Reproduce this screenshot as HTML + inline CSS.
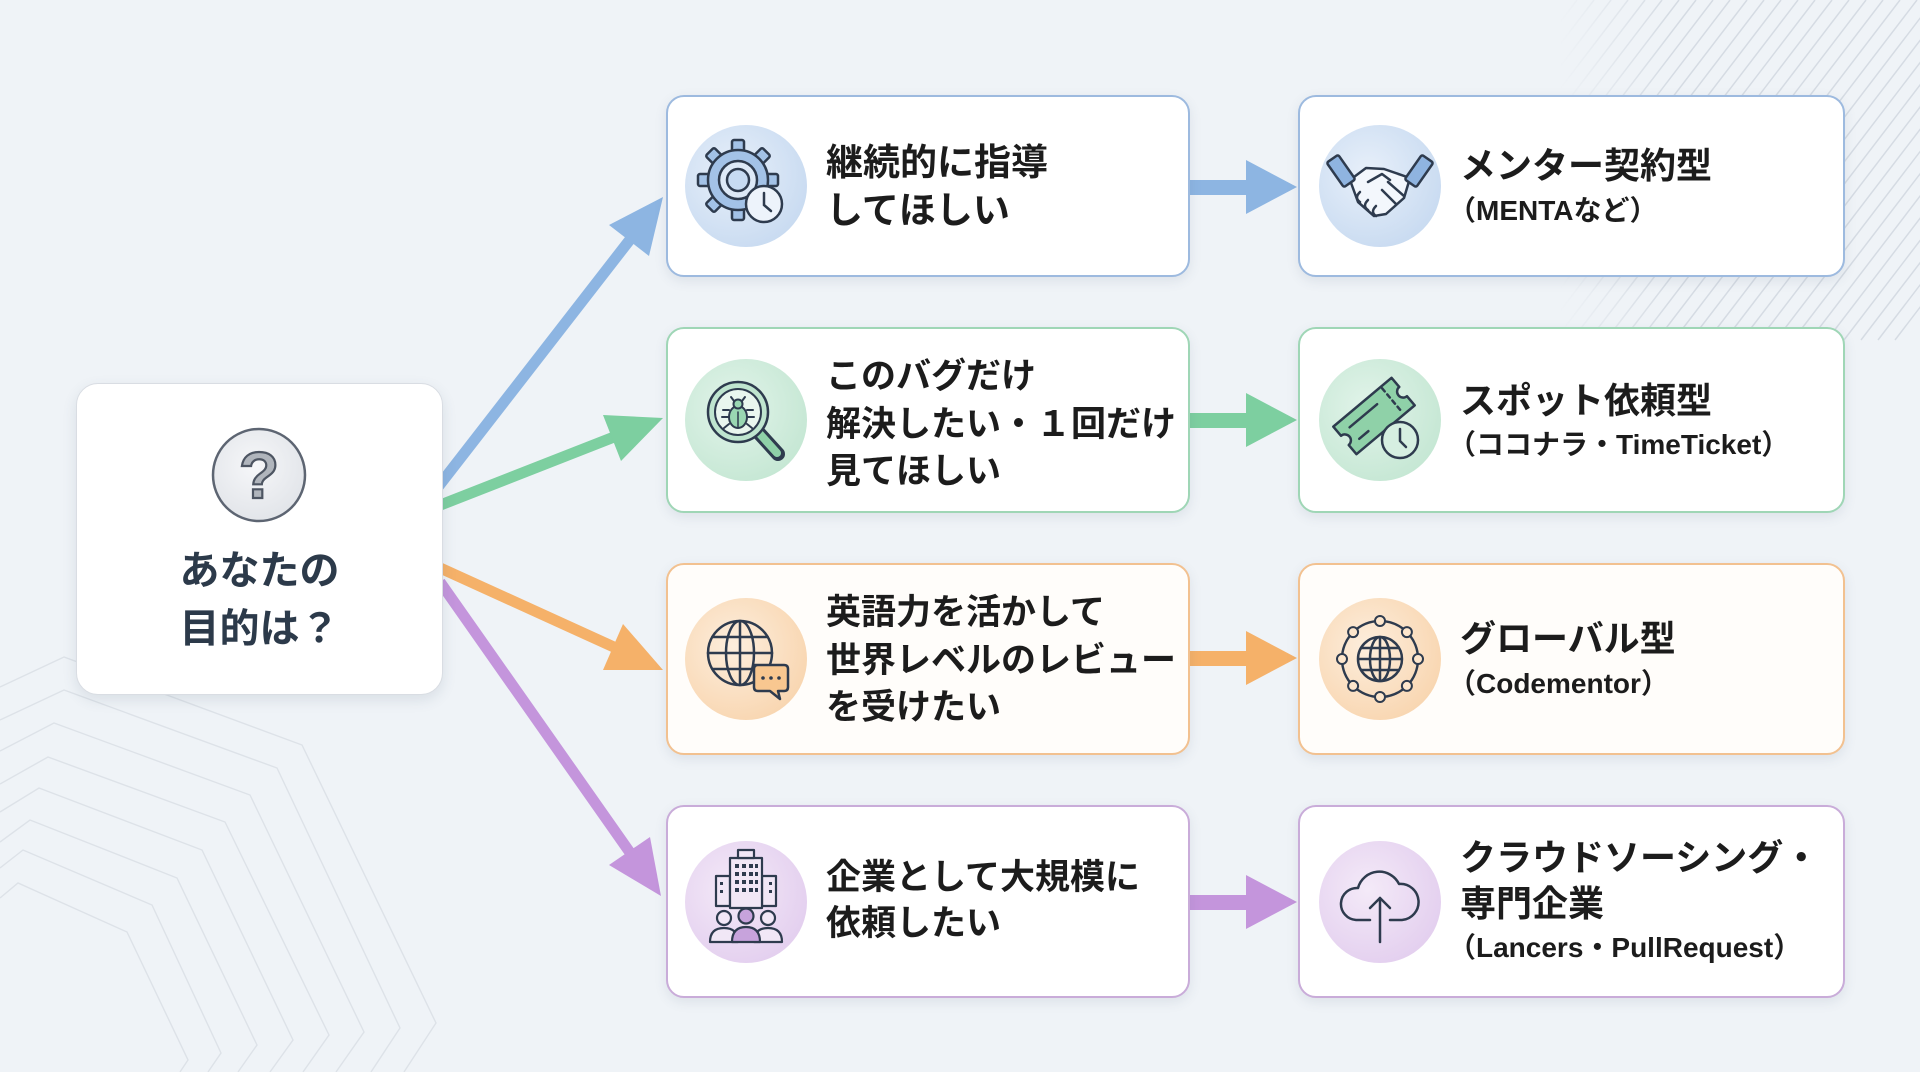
<!DOCTYPE html>
<html lang="ja">
<head>
<meta charset="utf-8">
<style>
  html,body{margin:0;padding:0;}
  body{width:1920px;height:1072px;overflow:hidden;background:#eff3f7;position:relative;
    font-family:"Liberation Sans","Noto Sans CJK JP",sans-serif;font-weight:700;}
  .layer{position:absolute;left:0;top:0;width:1920px;height:1072px;}
  .card{position:absolute;box-sizing:border-box;background:#fff;border:2.5px solid;border-radius:18px;
    box-shadow:0 4px 12px rgba(60,80,110,0.10);}
  .b{border-color:#9dbadf;}
  .g{border-color:#9fd6b6;}
  .o{border-color:#f2c190;background:#fffdfa;}
  .p{border-color:#c9acd9;}
  .t{position:absolute;white-space:nowrap;color:#1c1c1c;font-size:35px;}
  .rt{position:absolute;white-space:nowrap;color:#1c1c1c;font-size:36px;line-height:44px;}
  .rs{position:absolute;white-space:nowrap;color:#1c1c1c;font-size:28px;line-height:40px;}
</style>
</head>
<body>

<!-- background + arrows -->
<svg class="layer" width="1920" height="1072" viewBox="0 0 1920 1072">
  <defs>
    <linearGradient id="fadeTR" x1="0" y1="0" x2="1" y2="0">
      <stop offset="0" stop-color="#fff" stop-opacity="0"/>
      <stop offset="0.3" stop-color="#fff" stop-opacity="1"/>
      <stop offset="1" stop-color="#fff" stop-opacity="1"/>
    </linearGradient>
    <mask id="mTR">
      <rect x="1560" y="0" width="360" height="345" fill="url(#fadeTR)"/>
    </mask>
  </defs>
  <rect width="1920" height="1072" fill="#eff3f7"/>

  <!-- top-right diagonal lines -->
  <g mask="url(#mTR)" stroke="#cdd4dd" stroke-width="1.5" opacity="0.75">
    <line x1="1300" y1="340" x2="1560" y2="0"/>
    <line x1="1317" y1="340" x2="1577" y2="0"/>
    <line x1="1334" y1="340" x2="1594" y2="0"/>
    <line x1="1351" y1="340" x2="1611" y2="0"/>
    <line x1="1368" y1="340" x2="1628" y2="0"/>
    <line x1="1385" y1="340" x2="1645" y2="0"/>
    <line x1="1402" y1="340" x2="1662" y2="0"/>
    <line x1="1419" y1="340" x2="1679" y2="0"/>
    <line x1="1436" y1="340" x2="1696" y2="0"/>
    <line x1="1453" y1="340" x2="1713" y2="0"/>
    <line x1="1470" y1="340" x2="1730" y2="0"/>
    <line x1="1487" y1="340" x2="1747" y2="0"/>
    <line x1="1504" y1="340" x2="1764" y2="0"/>
    <line x1="1521" y1="340" x2="1781" y2="0"/>
    <line x1="1538" y1="340" x2="1798" y2="0"/>
    <line x1="1555" y1="340" x2="1815" y2="0"/>
    <line x1="1572" y1="340" x2="1832" y2="0"/>
    <line x1="1589" y1="340" x2="1849" y2="0"/>
    <line x1="1606" y1="340" x2="1866" y2="0"/>
    <line x1="1623" y1="340" x2="1883" y2="0"/>
    <line x1="1640" y1="340" x2="1900" y2="0"/>
    <line x1="1657" y1="340" x2="1917" y2="0"/>
    <line x1="1674" y1="340" x2="1934" y2="0"/>
    <line x1="1691" y1="340" x2="1951" y2="0"/>
    <line x1="1708" y1="340" x2="1968" y2="0"/>
    <line x1="1725" y1="340" x2="1985" y2="0"/>
    <line x1="1742" y1="340" x2="2002" y2="0"/>
    <line x1="1759" y1="340" x2="2019" y2="0"/>
    <line x1="1776" y1="340" x2="2036" y2="0"/>
    <line x1="1793" y1="340" x2="2053" y2="0"/>
    <line x1="1810" y1="340" x2="2070" y2="0"/>
    <line x1="1827" y1="340" x2="2087" y2="0"/>
    <line x1="1844" y1="340" x2="2104" y2="0"/>
    <line x1="1861" y1="340" x2="2121" y2="0"/>
    <line x1="1878" y1="340" x2="2138" y2="0"/>
    <line x1="1895" y1="340" x2="2155" y2="0"/>
  </g>

  <!-- bottom-left hexagon lines -->
  <g fill="none" stroke="#dde2e8" stroke-width="1.4">
    <polyline points="0,687 64,657 302,745 436,1023 404,1072"/>
    <polyline points="0,720 64,690 277,768 400,1028 371,1072"/>
    <polyline points="0,751 54,723 250,795 364,1032 336,1072"/>
    <polyline points="0,784 48,757 225,822 329,1035 303,1072"/>
    <polyline points="0,812 39,788 202,850 293,1040 270,1072"/>
    <polyline points="0,842 30,820 177,878 257,1045 238,1072"/>
    <polyline points="0,868 23,850 152,905 221,1053 208,1072"/>
    <polyline points="0,898 18,883 127,932 188,1060 180,1072"/>
  </g>

  <!-- diagonal arrows -->
  <g stroke-width="11" fill="none">
    <line x1="438" y1="487" x2="632" y2="237" stroke="#8db5e2"/>
    <line x1="438" y1="506" x2="614" y2="437" stroke="#7dcfa0"/>
    <line x1="438" y1="567" x2="616" y2="648" stroke="#f5b169"/>
    <line x1="440" y1="582" x2="631" y2="854" stroke="#c495dc"/>
  </g>
  <polygon points="663,197 649,256 609,225" fill="#8db5e2"/>
  <polygon points="663,418 621,461 603,415" fill="#7dcfa0"/>
  <polygon points="663,670 603,670 623,624" fill="#f5b169"/>
  <polygon points="661,896 609,865 650,837" fill="#c495dc"/>

  <!-- horizontal arrows -->
  <rect x="1190" y="180" width="60" height="15" fill="#8db5e2"/>
  <polygon points="1246,160 1297,187 1246,214" fill="#8db5e2"/>
  <rect x="1190" y="413" width="60" height="15" fill="#7dcfa0"/>
  <polygon points="1246,393 1297,420 1246,447" fill="#7dcfa0"/>
  <rect x="1190" y="651" width="60" height="15" fill="#f5b169"/>
  <polygon points="1246,631 1297,658 1246,685" fill="#f5b169"/>
  <rect x="1190" y="895" width="60" height="15" fill="#c495dc"/>
  <polygon points="1246,875 1297,902 1246,929" fill="#c495dc"/>
</svg>

<!-- left box -->
<div class="card" style="left:76px;top:383px;width:367px;height:312px;border:1.5px solid #d9dde3;border-radius:22px;box-shadow:0 5px 14px rgba(60,80,110,0.12);"></div>
<div style="position:absolute;left:76px;width:367px;top:542px;text-align:center;font-size:40px;line-height:58px;color:#2c3a4a;white-space:nowrap;">あなたの<br>目的は？</div>

<!-- middle cards -->
<div class="card b" style="left:666px;top:95px;width:524px;height:182px;"></div>
<div class="card g" style="left:666px;top:327px;width:524px;height:186px;"></div>
<div class="card o" style="left:666px;top:563px;width:524px;height:192px;"></div>
<div class="card p" style="left:666px;top:805px;width:524px;height:193px;"></div>

<!-- right cards -->
<div class="card b" style="left:1298px;top:95px;width:547px;height:182px;"></div>
<div class="card g" style="left:1298px;top:327px;width:547px;height:186px;"></div>
<div class="card o" style="left:1298px;top:563px;width:547px;height:192px;"></div>
<div class="card p" style="left:1298px;top:805px;width:547px;height:193px;"></div>

<!-- middle texts -->
<div class="t" style="left:826px;top:139px;line-height:48px;font-size:37px;">継続的に指導<br>してほしい</div>
<div class="t" style="left:826px;top:353px;line-height:47.5px;">このバグだけ<br>解決したい・１回だけ<br>見てほしい</div>
<div class="t" style="left:826px;top:589px;line-height:47.5px;">英語力を活かして<br>世界レベルのレビュー<br>を受けたい</div>
<div class="t" style="left:826px;top:855px;line-height:46px;">企業として大規模に<br>依頼したい</div>

<!-- right texts -->
<div class="rt" style="left:1460px;top:144px;">メンター契約型</div>
<div class="rs" style="left:1448px;top:191px;">（MENTAなど）</div>
<div class="rt" style="left:1460px;top:379px;">スポット依頼型</div>
<div class="rs" style="left:1448px;top:425px;">（ココナラ・TimeTicket）</div>
<div class="rt" style="left:1460px;top:617px;">グローバル型</div>
<div class="rs" style="left:1448px;top:664px;">（Codementor）</div>
<div class="rt" style="left:1460px;top:836px;">クラウドソーシング・</div>
<div class="rt" style="left:1460px;top:882px;">専門企業</div>
<div class="rs" style="left:1448px;top:928px;">（Lancers・PullRequest）</div>

<!-- icons overlay -->
<svg class="layer" width="1920" height="1072" viewBox="0 0 1920 1072" style="pointer-events:none;">
  <defs>
    <radialGradient id="gB" cx="0.4" cy="0.4" r="0.7"><stop offset="0" stop-color="#e8f0fa"/><stop offset="1" stop-color="#c6d9f0"/></radialGradient>
    <radialGradient id="gG" cx="0.4" cy="0.4" r="0.7"><stop offset="0" stop-color="#e2f4ea"/><stop offset="1" stop-color="#c3e6d2"/></radialGradient>
    <radialGradient id="gO" cx="0.4" cy="0.4" r="0.7"><stop offset="0" stop-color="#fdeedd"/><stop offset="1" stop-color="#f8d4ad"/></radialGradient>
    <radialGradient id="gP" cx="0.4" cy="0.4" r="0.7"><stop offset="0" stop-color="#f4eaf8"/><stop offset="1" stop-color="#e2cdee"/></radialGradient>
    <radialGradient id="gQ" cx="0.45" cy="0.4" r="0.7"><stop offset="0" stop-color="#f6f7f9"/><stop offset="1" stop-color="#dfe2e7"/></radialGradient>
  </defs>

  <!-- question -->
  <circle cx="259" cy="475" r="46" fill="url(#gQ)" stroke="#5d6572" stroke-width="2.5"/>
  <text x="259" y="498" text-anchor="middle" font-family="Liberation Sans, sans-serif" font-weight="700" font-size="66" fill="#b0b5bc" stroke="#4d5562" stroke-width="2.2">?</text>

  <!-- gear + clock -->
  <g transform="translate(746,186)">
    <circle r="61" fill="url(#gB)"/>
    <g transform="translate(-8,-6)" fill="#a3c2e7" stroke="#2e3b4e" stroke-width="2.5" stroke-linejoin="round">
      <rect x="-6" y="-40" width="12" height="16" rx="2"/>
      <rect x="-6" y="-40" width="12" height="16" rx="2" transform="rotate(45)"/>
      <rect x="-6" y="-40" width="12" height="16" rx="2" transform="rotate(90)"/>
      <rect x="-6" y="-40" width="12" height="16" rx="2" transform="rotate(135)"/>
      <rect x="-6" y="-40" width="12" height="16" rx="2" transform="rotate(180)"/>
      <rect x="-6" y="-40" width="12" height="16" rx="2" transform="rotate(225)"/>
      <rect x="-6" y="-40" width="12" height="16" rx="2" transform="rotate(270)"/>
      <rect x="-6" y="-40" width="12" height="16" rx="2" transform="rotate(315)"/>
      <circle r="30" stroke="none"/>
      <circle r="30" fill="none"/>
      <circle r="19" fill="#dde9f7"/>
      <circle r="11" fill="#c7dbf2"/>
    </g>
    <circle cx="18" cy="18" r="18" fill="#edf3fb" stroke="#2e3b4e" stroke-width="2.5"/>
    <path d="M18,7 V19 L25,25" fill="none" stroke="#2e3b4e" stroke-width="2.5" stroke-linecap="round"/>
  </g>

  <!-- handshake -->
  <g transform="translate(1380,186)" stroke="#2e3b4e" stroke-width="2.5" stroke-linejoin="round" stroke-linecap="round">
    <circle r="61" fill="url(#gB)" stroke="none"/>
    <path d="M-30,-6 L-14,-18 L4,-17 L30,-8 L24,12 L6,28 L-6,30 L-22,16 Z" fill="#f3f7fc"/>
    <path d="M-12,-4 L2,-12 L10,-6" fill="none"/>
    <path d="M-20,6 q-6,6 0,10 M-12,14 q-6,6 0,10 M-4,20 q-6,6 0,10" fill="none"/>
    <path d="M8,-4 L24,10 M2,4 L16,18" fill="none"/>
    <rect x="-46" y="-30" width="14" height="30" rx="2" fill="#8fb4e0" transform="rotate(-35 -39 -15)"/>
    <rect x="32" y="-30" width="14" height="30" rx="2" fill="#8fb4e0" transform="rotate(35 39 -15)"/>
  </g>

  <!-- bug magnifier -->
  <g transform="translate(746,420)" stroke="#2e3b4e" stroke-linecap="round" stroke-linejoin="round">
    <circle r="61" fill="url(#gG)" stroke="none"/>
    <line x1="12" y1="12" x2="32" y2="34" stroke-width="14"/>
    <line x1="13" y1="13" x2="31" y2="33" stroke="#8fd1a8" stroke-width="8"/>
    <circle cx="-8" cy="-8" r="30" fill="#bfe5cf" stroke-width="2.5"/>
    <circle cx="-8" cy="-8" r="23" fill="#e9f6ee" stroke-width="2"/>
    <g stroke-width="2" fill="none">
      <path d="M-17,-10 h-6 M-17,-3 h-7 M-17,4 l-5,4 M1,-10 h6 M1,-3 h7 M1,4 l5,4 M-12,-19 l-3,-4 M-4,-19 l3,-4"/>
    </g>
    <ellipse cx="-8" cy="-3" rx="9" ry="11" fill="#9ad7b2" stroke-width="2"/>
    <circle cx="-8" cy="-16" r="4.5" fill="#9ad7b2" stroke-width="2"/>
    <line x1="-8" y1="-8" x2="-8" y2="8" stroke-width="1.5"/>
  </g>

  <!-- ticket + clock -->
  <g transform="translate(1380,420)" stroke="#2e3b4e" stroke-width="2.5" stroke-linejoin="round" stroke-linecap="round">
    <circle r="61" fill="url(#gG)" stroke="none"/>
    <g transform="translate(-6,-4) rotate(-40)">
      <path d="M-38,-18 H38 V-6 A6,6 0 0 0 38,6 V18 H-38 V6 A6,6 0 0 0 -38,-6 Z" fill="#8fd1a8"/>
      <line x1="24" y1="-16" x2="24" y2="16" stroke-dasharray="4 4"/>
      <line x1="-26" y1="-7" x2="10" y2="-7"/>
      <line x1="-26" y1="8" x2="-14" y2="8"/>
    </g>
    <circle cx="20" cy="20" r="18" fill="#d6efe1"/>
    <path d="M20,9 V21 L26,27" fill="none"/>
  </g>

  <!-- globe + chat -->
  <g transform="translate(746,659)" stroke="#2e3b4e" stroke-width="2.5" fill="none" stroke-linecap="round">
    <circle r="61" fill="url(#gO)" stroke="none"/>
    <circle cx="-6" cy="-6" r="32"/>
    <ellipse cx="-6" cy="-6" rx="14" ry="32"/>
    <line x1="-6" y1="-38" x2="-6" y2="26"/>
    <line x1="-38" y1="-6" x2="26" y2="-6"/>
    <line x1="-33.7" y1="-22" x2="21.7" y2="-22"/>
    <line x1="-33.7" y1="10" x2="21.7" y2="10"/>
    <path d="M8,6 H38 Q42,6 42,10 V28 Q42,32 38,32 H32 L34,40 L24,32 H12 Q8,32 8,28 V10 Q8,6 12,6 Z" fill="#f8c790" stroke-linejoin="round"/>
    <circle cx="17" cy="19" r="1.8" fill="#2e3b4e" stroke="none"/>
    <circle cx="25" cy="19" r="1.8" fill="#2e3b4e" stroke="none"/>
    <circle cx="33" cy="19" r="1.8" fill="#2e3b4e" stroke="none"/>
  </g>

  <!-- globe network -->
  <g transform="translate(1380,659)" stroke="#2e3b4e" stroke-width="2.5" fill="none">
    <circle r="61" fill="url(#gO)" stroke="none"/>
    <circle r="38"/>
    <circle r="22"/>
    <ellipse rx="10" ry="22"/>
    <line x1="0" y1="-22" x2="0" y2="22"/>
    <line x1="-22" y1="0" x2="22" y2="0"/>
    <line x1="-19" y1="-11" x2="19" y2="-11"/>
    <line x1="-19" y1="11" x2="19" y2="11"/>
    <g fill="#fde6cc" stroke-width="2">
      <circle cx="0" cy="-38" r="5"/>
      <circle cx="26.9" cy="-26.9" r="5"/>
      <circle cx="38" cy="0" r="5"/>
      <circle cx="26.9" cy="26.9" r="5"/>
      <circle cx="0" cy="38" r="5"/>
      <circle cx="-26.9" cy="26.9" r="5"/>
      <circle cx="-38" cy="0" r="5"/>
      <circle cx="-26.9" cy="-26.9" r="5"/>
    </g>
  </g>

  <!-- building + people -->
  <g transform="translate(746,902)" stroke="#2e3b4e" stroke-width="2.2" stroke-linejoin="round">
    <circle r="61" fill="url(#gP)" stroke="none"/>
    <rect x="-30" y="-26" width="14" height="30" fill="#f1e7f6"/>
    <rect x="16" y="-26" width="14" height="30" fill="#f1e7f6"/>
    <rect x="-16" y="-44" width="32" height="50" fill="#f1e7f6"/>
    <rect x="-8" y="-52" width="16" height="8" fill="#f1e7f6"/>
    <g fill="#2e3b4e" stroke="none">
      <rect x="-11" y="-38" width="4" height="4"/><rect x="-4" y="-38" width="4" height="4"/><rect x="3" y="-38" width="4" height="4"/><rect x="9" y="-38" width="3" height="4"/>
      <rect x="-11" y="-30" width="4" height="4"/><rect x="-4" y="-30" width="4" height="4"/><rect x="3" y="-30" width="4" height="4"/><rect x="9" y="-30" width="3" height="4"/>
      <rect x="-11" y="-22" width="4" height="4"/><rect x="-4" y="-22" width="4" height="4"/><rect x="3" y="-22" width="4" height="4"/><rect x="9" y="-22" width="3" height="4"/>
      <rect x="-11" y="-14" width="4" height="4"/><rect x="-4" y="-14" width="4" height="4"/><rect x="3" y="-14" width="4" height="4"/><rect x="9" y="-14" width="3" height="4"/>
      <rect x="-26" y="-20" width="3" height="3"/><rect x="-26" y="-12" width="3" height="3"/>
      <rect x="23" y="-20" width="3" height="3"/><rect x="23" y="-12" width="3" height="3"/>
    </g>
    <circle cx="-22" cy="16" r="7" fill="#f1e7f6"/>
    <circle cx="22" cy="16" r="7" fill="#f1e7f6"/>
    <path d="M-36,40 Q-36,26 -22,26 Q-8,26 -8,40 Z" fill="#f1e7f6"/>
    <path d="M8,40 Q8,26 22,26 Q36,26 36,40 Z" fill="#f1e7f6"/>
    <circle cx="0" cy="14" r="7.5" fill="#c7a3dc"/>
    <path d="M-14,40 Q-14,25 0,25 Q14,25 14,40 Z" fill="#c7a3dc"/>
  </g>

  <!-- cloud upload -->
  <g transform="translate(1380,902)" stroke="#2e3b4e" stroke-width="2.5" fill="none" stroke-linecap="round" stroke-linejoin="round">
    <circle r="61" fill="url(#gP)" stroke="none"/>
    <path d="M-10,18 H-24 A16 16 0 0 1 -22,-14 A22 22 0 0 1 19,-18 A18 18 0 0 1 22,18 H10"/>
    <line x1="0" y1="40" x2="0" y2="-4"/>
    <path d="M-10,6 L0,-4 L10,6"/>
  </g>
</svg>

</body>
</html>
